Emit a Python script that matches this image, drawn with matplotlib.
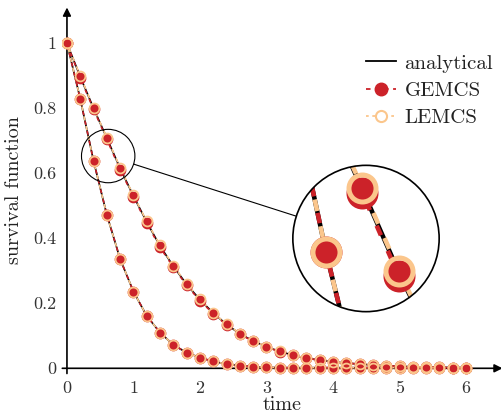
import numpy as np
import matplotlib.pyplot as plt
from matplotlib.patches import Circle, Ellipse
from matplotlib.lines import Line2D

plt.rcParams['font.family'] = ['cmr10', 'DejaVu Serif']
plt.rcParams['axes.unicode_minus'] = False

# tempi di campionamento
t = [0.0, 0.2, 0.4, 0.6, 0.8, 1.0, 1.2, 1.4, 1.6, 1.8, 2.0, 2.2, 2.4, 2.6, 2.8, 3.0,
     3.2, 3.4, 3.6, 3.8, 4.0, 4.2, 4.4, 4.6, 4.8, 5.0, 5.2, 5.4, 5.6, 5.8, 6.0]

# curva lenta
ana_slow = [1.0, 0.897, 0.800, 0.708, 0.615, 0.530, 0.450, 0.376, 0.314, 0.258, 0.211, 0.170, 0.135,
            0.106, 0.084, 0.066, 0.052, 0.040, 0.031, 0.025, 0.020, 0.016, 0.013, 0.010, 0.008,
            0.006, 0.005, 0.004, 0.003, 0.002, 0.002]
lem_slow = [1.0, 0.900, 0.801, 0.710, 0.617, 0.532, 0.452, 0.378, 0.316, 0.260, 0.212, 0.171, 0.136,
            0.107, 0.085, 0.066, 0.052, 0.040, 0.031, 0.025, 0.020, 0.016, 0.013, 0.010, 0.008,
            0.006, 0.005, 0.004, 0.003, 0.002, 0.002]
gem_slow = [1.0, 0.893, 0.797, 0.704, 0.611, 0.527, 0.446, 0.372, 0.311, 0.255, 0.208, 0.168, 0.133,
            0.105, 0.083, 0.065, 0.051, 0.040, 0.031, 0.025, 0.020, 0.016, 0.013, 0.010, 0.008,
            0.006, 0.005, 0.004, 0.003, 0.002, 0.002]

# curva veloce
ana_fast = [1.0, 0.829, 0.638, 0.472, 0.336, 0.236, 0.161, 0.110, 0.072, 0.048, 0.033, 0.021, 0.013,
            0.008, 0.005, 0.003, 0.002, 0.002, 0.002, 0.002, 0.002, 0.002, 0.002, 0.002, 0.002,
            0.002, 0.002, 0.002, 0.002, 0.002, 0.002]
lem_fast = ana_fast
gem_fast = ana_fast

xticks = [0, 1, 2, 3, 4, 5, 6]
yticks = [0, 0.2, 0.4, 0.6, 0.8, 1]
ylabels = ['0', '0.2', '0.4', '0.6', '0.8', '1']

RED = '#cc2229'
ORA = '#fbc68c'
W, H = 502, 418

fig = plt.figure(figsize=(W / 100, H / 100), dpi=100)
ax = fig.add_axes([62.3 / W, 44.5 / H, 440.3 / W, 366 / H])
ax.set_xlim(-0.07, 6.55)
ax.set_ylim(-0.016, 1.11)
for s in ax.spines.values():
    s.set_visible(False)
ax.set_xticks(xticks)
ax.set_yticks(yticks)
ax.set_yticklabels(ylabels)
ax.tick_params(length=0, labelsize=13, colors='#333333')
ax.tick_params(axis='x', pad=5)
ax.tick_params(axis='y', pad=4)
ax.set_xlabel('time', fontsize=14.5, color='#222222', labelpad=0)
ax.set_ylabel('survival function', fontsize=14.5, color='#222222', labelpad=8)

# assi con frecce
ax.annotate('', xy=(6.55, 0), xytext=(-0.07, 0), xycoords='data',
            arrowprops=dict(arrowstyle='-|>', color='k', lw=1.2, mutation_scale=12, shrinkA=0, shrinkB=0))
ax.annotate('', xy=(0, 1.11), xytext=(0, -0.016), xycoords='data',
            arrowprops=dict(arrowstyle='-|>', color='k', lw=1.2, mutation_scale=12, shrinkA=0, shrinkB=0))


def disegna(a, k, clip=None):
    arts = []
    for ana, gem, lem in [(ana_slow, gem_slow, lem_slow), (ana_fast, gem_fast, lem_fast)]:
        arts += a.plot(t, ana, color='k', lw=1.2 * k, zorder=2)
        arts += a.plot(t, gem, color=RED, lw=1.2 * k, ls=(0, (2.3, 3.7)), zorder=3)
        arts += a.plot(t, lem, color=ORA, lw=1.2 * k, ls=(3.0, (2.6, 3.4)), zorder=4)
    for gem, lem in [(gem_slow, lem_slow), (gem_fast, lem_fast)]:
        arts += a.plot(t, gem, ls='none', marker='o', ms=7.1 * k, mfc=RED, mec=RED, mew=1.3 * k, zorder=5)
        arts += a.plot(t, lem, ls='none', marker='o', ms=7.1 * k, mfc='none', mec=ORA, mew=1.3 * k, zorder=6)
    if clip is not None:
        for art in arts:
            art.set_clip_path(clip)


disegna(ax, 1.0)

# zoom
xc, yc = 0.62, 0.653
r_small = 26.7
mag = 2.74
R = r_small * mag
cx, cy = 366, 238.5
pxx, pxy = 66.5, 325.0

ax.add_patch(Ellipse((xc, yc), 2 * r_small / pxx, 2 * r_small / pxy, fill=False, ec='k', lw=0.8, zorder=7))

axin = fig.add_axes([(cx - R) / W, (H - cy - R) / H, 2 * R / W, 2 * R / H])
axin.set_xlim(xc - R / (pxx * mag), xc + R / (pxx * mag))
axin.set_ylim(yc - R / (pxy * mag), yc + R / (pxy * mag))
axin.axis('off')
bordo = Circle((0.5, 0.5), 0.5, transform=axin.transAxes, fill=False, ec='k', lw=1.2, clip_on=False, zorder=10)
axin.add_patch(bordo)
clipc = Circle((0.5, 0.5), 0.5, transform=axin.transAxes)
disegna(axin, mag, clip=clipc)

# linea di collegamento
d = np.array([cx - 108.3, cy - 156.0])
d = d / np.hypot(*d)
p1 = np.array([108.3, 156.0]) + r_small * d
p2 = np.array([cx, cy]) - R * d
fig.add_artist(Line2D([p1[0] / W, p2[0] / W], [1 - p1[1] / H, 1 - p2[1] / H], color='k', lw=0.8))

handles = [Line2D([], [], color='k', lw=1.3),
           Line2D([], [], color=RED, lw=1.3, ls=(0, (2.5, 2.5)), marker='o', ms=9, mfc=RED, mec=RED),
           Line2D([], [], color=ORA, lw=1.3, ls=(0, (1.5, 2)), marker='o', ms=8, mfc='white', mec=ORA, mew=1.5)]
leg = fig.legend(handles, ['analytical', 'GEMCS', 'LEMCS'], loc='upper left',
                 bbox_to_anchor=(366 / W, 1 - 54 / H), borderpad=0, borderaxespad=0,
                 frameon=False, fontsize=15, handlelength=1.45, handletextpad=0.4, labelspacing=0.42)
for tx in leg.get_texts():
    tx.set_color('#222222')

fig.savefig('out.png', dpi=100)
